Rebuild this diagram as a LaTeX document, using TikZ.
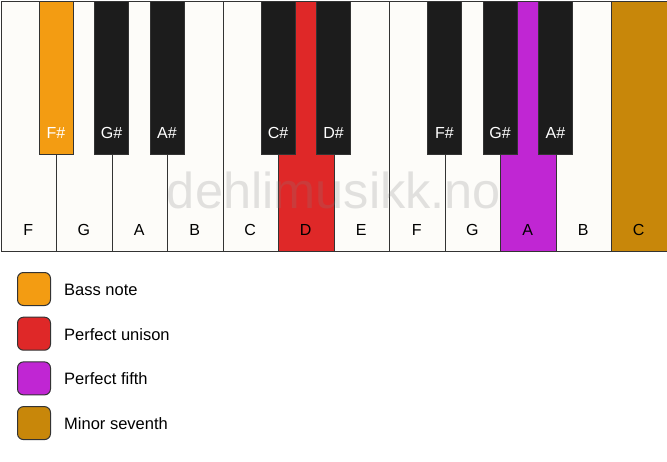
\documentclass[tikz,border=0pt]{standalone}
\usepackage{fontspec}
\setmainfont{Liberation Sans}
\definecolor{wkey}{HTML}{FDFCF9}
\definecolor{bkey}{HTML}{1C1C1C}
\definecolor{edge}{HTML}{333333}
\definecolor{bass}{HTML}{F39C12}
\definecolor{unison}{HTML}{DF2828}
\definecolor{fifth}{HTML}{C026D3}
\definecolor{seventh}{HTML}{C8870A}
\begin{document}
\begin{tikzpicture}[x=1pt,y=-1pt,
  whitekey/.style={draw=edge, line width=1pt, fill=wkey, minimum width=55.5pt, minimum height=250pt, inner sep=0pt, anchor=north west},
  blackkey/.style={draw=edge, line width=1pt, fill=bkey, minimum width=34pt, minimum height=153pt, inner sep=0pt, anchor=north},
  wlabel/.style={font=\fontsize{16}{18}\selectfont, text=black, inner sep=0pt},
  blabel/.style={font=\fontsize{16}{18}\selectfont, text=white, inner sep=0pt},
  legbox/.style={draw=edge, line width=1pt, rounded corners=6pt, minimum width=33pt, minimum height=33pt, inner sep=0pt, anchor=north west},
  legtext/.style={font=\fontsize{16.5}{19}\selectfont, anchor=west, inner sep=0pt},
  watermark/.style={font=\fontsize{50.5}{52}\selectfont, text=gray, opacity=0.22, anchor=base, inner sep=0pt}]
\useasboundingbox (0,0) rectangle (667,461);
% white keys
\foreach \i/\n/\c in {0/F/wkey,1/G/wkey,2/A/wkey,3/B/wkey,4/C/wkey,5/D/unison,6/E/wkey,7/F/wkey,8/G/wkey,9/A/fifth,10/B/wkey,11/C/seventh}{
  \node[whitekey, fill=\c] (w\i) at ({0.5+\i*55.5}, 0.5) {};
}
\node[watermark] (wm) at (334, 208) {dehlimusikk.no};
\foreach \i/\n in {0/F,1/G,2/A,3/B,4/C,5/D,6/E,7/F,8/G,9/A,10/B,11/C}{
  \node[wlabel] (wl\i) at ({0.5+\i*55.5+27.75}, 230) {\n};
}
% black keys
\foreach \j/\n/\c in {1/F\#/bass,2/G\#/bkey,3/A\#/bkey,5/C\#/bkey,6/D\#/bkey,8/F\#/bkey,9/G\#/bkey,10/A\#/bkey}{
  \node[blackkey, fill=\c] (b\j) at ({0.5+\j*55.5}, 0.5) {};
  \node[blabel] (bl\j) at ({0.5+\j*55.5}, 133) {\n};
}
% legend
\foreach \k/\c/\t in {0/bass/Bass note,1/unison/Perfect unison,2/fifth/Perfect fifth,3/seventh/Minor seventh}{
  \node[legbox, fill=\c] (lb\k) at (17, {272+\k*44.7}) {};
  \node[legtext] (lt\k) at (64, {289.5+\k*44.7}) {\t};
}
\end{tikzpicture}
\end{document}
